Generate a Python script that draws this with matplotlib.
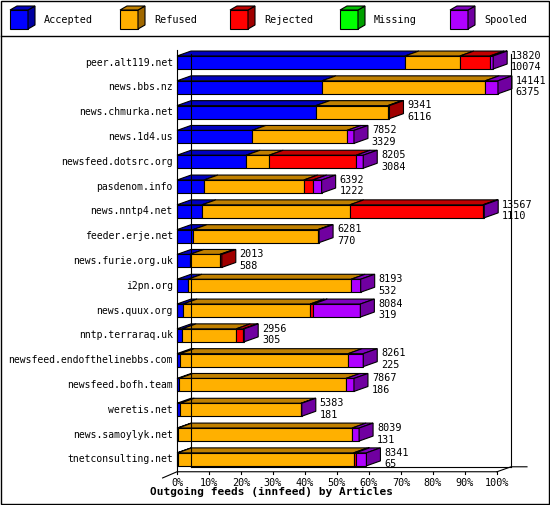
import matplotlib.pyplot as plt
from matplotlib.patches import Polygon, Rectangle

hosts = ["peer.alt119.net", "news.bbs.nz", "news.chmurka.net", "news.1d4.us",
         "newsfeed.dotsrc.org", "pasdenom.info", "news.nntp4.net", "feeder.erje.net",
         "news.furie.org.uk", "i2pn.org", "news.quux.org", "nntp.terraraq.uk",
         "newsfeed.endofthelinebbs.com", "newsfeed.bofh.team", "weretis.net",
         "news.samoylyk.net", "tnetconsulting.net"]
offered = [13820, 14141, 9341, 7852, 8205, 6392, 13567, 6281, 2013, 8193, 8084,
           2956, 8261, 7867, 5383, 8039, 8341]
accepted_n = [10074, 6375, 6116, 3329, 3084, 1222, 1110, 770, 588, 532, 319,
              305, 225, 186, 181, 131, 65]
# percentages per row: accepted, refused, rejected, missing, spooled
accepted = [71.2, 45.3, 43.4, 23.4, 21.6, 8.4, 7.8, 5.0, 4.0, 3.4, 1.9, 1.6, 1.0, 0.6, 1.0, 0.3, 0.2]
refused = [17.2, 51.0, 22.5, 29.7, 7.2, 31.2, 46.2, 39.0, 9.4, 51.0, 39.7, 16.9, 52.5, 52.2, 37.8, 54.4, 55.0]
rejected = [9.4, 0.0, 0.5, 0.0, 27.2, 2.8, 41.6, 0.0, 0.6, 0.0, 1.0, 2.2, 0.0, 0.0, 0.0, 0.0, 0.6]
missing = [0.0] * 17
spooled = [1.0, 4.0, 0.0, 2.2, 2.2, 2.8, 0.4, 0.4, 0.0, 3.0, 14.7, 0.3, 4.7, 2.5, 0.2, 2.2, 3.4]

series = [accepted, refused, rejected, missing, spooled]
names = ["Accepted", "Refused", "Rejected", "Missing", "Spooled"]
front = ["#0000ff", "#ffb000", "#ff0000", "#00ff00", "#b000ff"]
top = ["#0000c0", "#c08000", "#c00000", "#00c000", "#8000c0"]
side = ["#0000a0", "#a06800", "#a00000", "#00a000", "#7000a0"]

fig = plt.figure(figsize=(5.5, 5.05), dpi=100)
W, H = 550, 505
ax = fig.add_axes([177 / W, 1 - 472 / H, 320 / W, 422 / H])
ax.set_xlim(0, 100)
ax.set_ylim(16.51, -0.504)
ax.axis("off")

dx, dy, hh = 4.375, -0.2, 0.262
kw = dict(edgecolor="black", linewidth=0.8, clip_on=False)
mono = "DejaVu Sans Mono"

# back wall and floor
ax.plot([dx, dx], [-0.35, 16.3], color="black", lw=0.8, clip_on=False)
ax.plot([100 + dx, 100 + dx], [-0.35, 16.3], color="black", lw=0.8, clip_on=False)
ax.plot([0, 0], [-0.504, 16.5], color="black", lw=0.8, clip_on=False)
ax.plot([-4.5, 0, 100], [16.75, 16.5, 16.5], color="black", lw=0.8, clip_on=False)
ax.plot([100, 100 + dx, dx + 105], [16.5, 16.3, 16.3], color="black", lw=0.8, clip_on=False)
ax.plot([dx, 100 + dx], [16.3, 16.3], color="black", lw=0.8, clip_on=False)
for t in range(0, 101, 10):
    ax.plot([t, t], [16.5, 16.6], color="black", lw=0.8, clip_on=False)
    ax.text(t, 16.95, f"{t}%", ha="center", va="center", fontsize=7.3, family=mono)

for i, h in enumerate(hosts):
    x0 = 0.0
    last = 0
    for k, s in enumerate(series):
        v = s[i]
        if v <= 0:
            continue
        x1 = x0 + v
        ax.add_patch(Polygon([(x0, i - hh), (x0 + dx, i - hh + dy), (x1 + dx, i - hh + dy), (x1, i - hh)],
                             facecolor=top[k], **kw))
        ax.add_patch(Rectangle((x0, i - hh), v, 2 * hh, facecolor=front[k], **kw))
        x0 = x1
        last = k
    ax.add_patch(Polygon([(x0, i - hh), (x0 + dx, i - hh + dy), (x0 + dx, i + hh + dy), (x0, i + hh)],
                         facecolor=side[last], **kw))
    ax.text(-1.3, i, h, ha="right", va="center", fontsize=7.0, family=mono)
    ax.text(x0 + dx + 1.2, i - 0.27, str(offered[i]), ha="left", va="center", fontsize=7.3, family=mono)
    ax.text(x0 + dx + 1.2, i + 0.2, str(accepted_n[i]), ha="left", va="center", fontsize=7.3, family=mono)

# frame and legend in figure pixels
fax = fig.add_axes([0, 0, 1, 1], zorder=-1)
fax.set_xlim(0, W)
fax.set_ylim(H, 0)
fax.axis("off")
fax.add_patch(Rectangle((1, 1), W - 2, H - 2, fill=False, edgecolor="black", lw=1))
fax.plot([1, W - 1], [36, 36], color="black", lw=1)
for k, n in enumerate(names):
    lx = 10 + k * 110
    fax.add_patch(Rectangle((lx, 10), 18, 19, facecolor=front[k], edgecolor="black", lw=0.8))
    fax.add_patch(Polygon([(lx + 18, 10), (lx + 25, 6), (lx + 25, 25), (lx + 18, 29)],
                          facecolor=side[k], edgecolor="black", lw=0.8))
    fax.add_patch(Polygon([(lx, 10), (lx + 7, 6), (lx + 25, 6), (lx + 18, 10)],
                          facecolor=top[k], edgecolor="black", lw=0.8))
    fax.text(lx + 34, 20, n, ha="left", va="center", fontsize=7.3, family=mono)
fax.text(272, 492, "Outgoing feeds (innfeed) by Articles", ha="center", va="center",
         fontsize=8, fontweight="bold", family=mono)

fig.savefig("out.png", dpi=100)
